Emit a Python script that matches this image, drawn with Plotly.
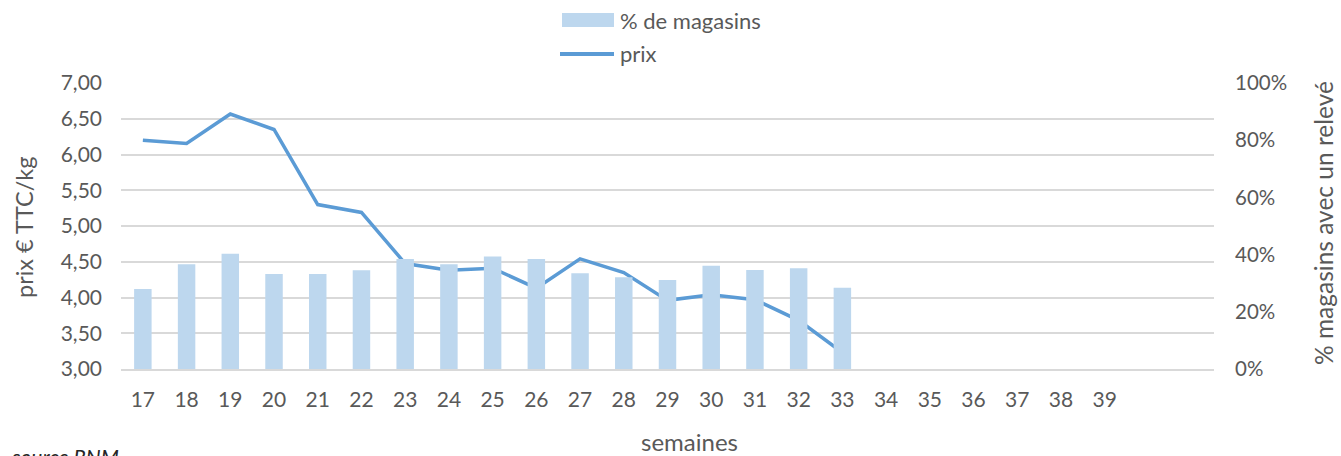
import plotly.graph_objects as go

# Weekly data
semaines = list(range(17, 42))
tick_weeks = list(range(17, 40))
pct_magasins = [0.28, 0.366, 0.403, 0.332, 0.332, 0.345, 0.385, 0.366, 0.393, 0.385,
                0.335, 0.321, 0.311, 0.361, 0.346, 0.352, 0.284,
                None, None, None, None, None, None, None, None]
prix = [6.20, 6.155, 6.566, 6.35, 5.30, 5.19, 4.475, 4.38, 4.41, 4.13,
        4.54, 4.35, 3.96, 4.04, 3.97, 3.68, 3.23,
        0.0, None, None, None, None, None, None, None]

left_ticks = [3.0, 3.5, 4.0, 4.5, 5.0, 5.5, 6.0, 6.5, 7.0]
left_labels = ["3,00", "3,50", "4,00", "4,50", "5,00", "5,50", "6,00", "6,50", "7,00"]
right_ticks = [0, 0.2, 0.4, 0.6, 0.8, 1.0]
right_labels = ["0%", "20%", "40%", "60%", "80%", "100%"]

FONT = "Lato, Carlito, Liberation Sans, sans-serif"
GREY = "#595959"
BAR_COLOR = "#BDD7EE"
LINE_COLOR = "#5B9BD5"

W, H = 1341, 456
L, R, T, B = 121, 1214, 83, 369   # plot-area edges in pixels


def px(x):
    return (x - L) / (R - L)


def py(y):
    return (B - y) / (B - T)


fig = go.Figure()
fig.add_trace(go.Bar(
    x=semaines, y=pct_magasins, name="% de magasins", yaxis="y2",
    marker=dict(color=BAR_COLOR, line=dict(width=0)),
))
fig.add_trace(go.Scatter(
    x=semaines, y=prix, name="prix", mode="lines", yaxis="y",
    line=dict(color=LINE_COLOR, width=3.5, simplify=False), connectgaps=False,
))

fig.update_layout(
    width=W, height=H,
    margin=dict(l=L, r=W - R, t=T, b=H - B, autoexpand=False),
    paper_bgcolor="white", plot_bgcolor="white",
    font=dict(family=FONT, size=18, color=GREY),
    bargap=0.6,
    showlegend=False,
    xaxis=dict(
        range=[16.5, 41.5], tickmode="array", tickvals=tick_weeks,
        ticktext=[str(w) for w in tick_weeks],
        showgrid=False, zeroline=False, showline=True, linecolor="#D9D9D9",
        linewidth=1.5, ticks="", tickfont=dict(size=21, color=GREY),
        ticklabelstandoff=11,
    ),
    yaxis=dict(
        range=[3.0, 7.0], tickmode="array", tickvals=left_ticks, ticktext=left_labels,
        showgrid=True, gridcolor="#D9D9D9", gridwidth=1.5, zeroline=False,
        ticks="", tickfont=dict(size=21, color=GREY), ticklabelstandoff=18,
    ),
    yaxis2=dict(
        range=[0, 1.0], tickmode="array", tickvals=right_ticks, ticktext=right_labels,
        overlaying="y", side="right", showgrid=False, zeroline=False,
        ticks="", tickfont=dict(size=20.5, color=GREY), ticklabelstandoff=20,
    ),
)

# Axis titles and source note
annotations = [
    dict(text="semaines", x=px(689), y=py(441), xanchor="center", yanchor="middle",
         font=dict(size=24, color=GREY)),
    dict(text="prix € TTC/kg", x=px(24), y=py(227), xanchor="center", yanchor="middle",
         textangle=-90, font=dict(size=23.5, color=GREY)),
    dict(text="% magasins avec un relevé", x=px(1323), y=py(223), xanchor="center",
         yanchor="middle", textangle=-90, font=dict(size=24.5, color=GREY)),
    dict(text="<i>source RNM</i>", x=px(9), y=py(442), xanchor="left", yanchor="top",
         font=dict(size=21, color="#262626")),
    # legend labels
    dict(text="% de magasins", x=px(618), y=py(20), xanchor="left", yanchor="middle",
         font=dict(size=22, color=GREY)),
    dict(text="prix", x=px(618), y=py(53), xanchor="left", yanchor="middle",
         font=dict(size=22, color=GREY)),
]
for a in annotations:
    a.update(xref="paper", yref="paper", showarrow=False)
fig.update_layout(annotations=annotations)

# Legend swatches
fig.add_shape(type="rect", xref="paper", yref="paper",
              x0=px(562), x1=px(614), y0=py(27), y1=py(13),
              fillcolor=BAR_COLOR, line=dict(width=0))
fig.add_shape(type="line", xref="paper", yref="paper",
              x0=px(560), x1=px(614), y0=py(54), y1=py(54),
              line=dict(color=LINE_COLOR, width=4))

fig.write_html("out.html")
